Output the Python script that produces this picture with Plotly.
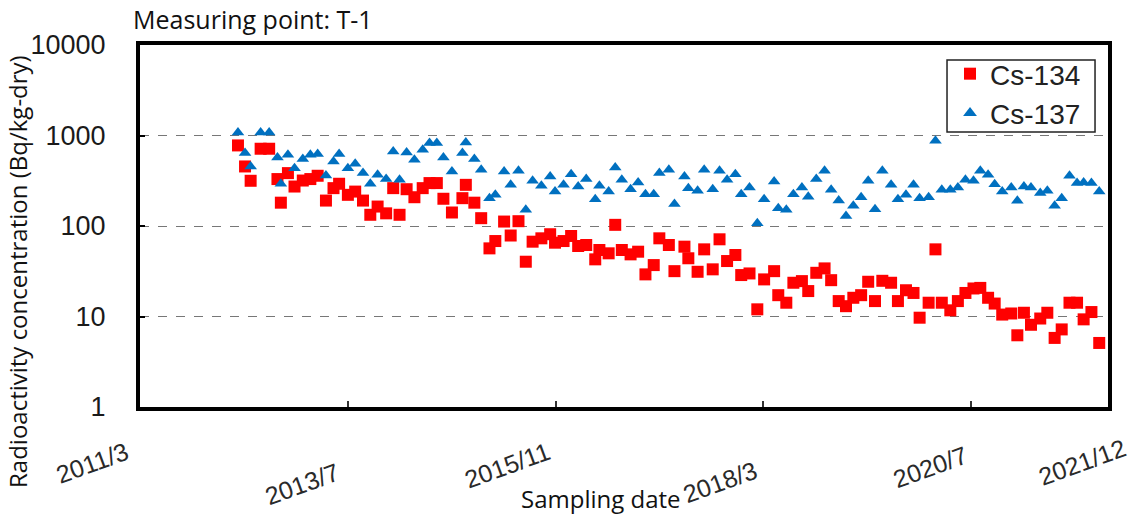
import plotly.graph_objects as go

sampling_dates = [
    "2012-04-06", "2012-05-05", "2012-05-28", "2012-07-08", "2012-08-12", "2012-09-15", "2012-09-29", "2012-10-28", "2012-11-24", "2012-12-28",
    "2013-01-28", "2013-02-27", "2013-04-02", "2013-05-03", "2013-05-26", "2013-07-01", "2013-07-31", "2013-09-01", "2013-10-01", "2013-10-31",
    "2013-12-05", "2014-01-03", "2014-01-29", "2014-02-27", "2014-03-31", "2014-05-04", "2014-06-01", "2014-07-01", "2014-07-28", "2014-09-01",
    "2014-10-14", "2014-10-28", "2014-12-02", "2014-12-30", "2015-02-02", "2015-02-26", "2015-04-03", "2015-04-30", "2015-06-01", "2015-07-01",
    "2015-07-29", "2015-09-03", "2015-10-09", "2015-10-29", "2015-12-03", "2016-01-03", "2016-02-01", "2016-03-05", "2016-04-11", "2016-04-28",
    "2016-06-05", "2016-07-02", "2016-07-29", "2016-09-03", "2016-10-04", "2016-11-03", "2016-12-07", "2016-12-30", "2017-02-07", "2017-03-02",
    "2017-04-12", "2017-04-28", "2017-06-05", "2017-07-02", "2017-08-06", "2017-09-03", "2017-10-04", "2017-11-07", "2017-12-01", "2018-01-04",
    "2018-02-05", "2018-03-05", "2018-04-15", "2018-05-02", "2018-06-04", "2018-07-03", "2018-08-07", "2018-09-02", "2018-10-05", "2018-11-08",
    "2018-12-05", "2019-01-05", "2019-02-04", "2019-03-06", "2019-04-07", "2019-05-06", "2019-06-03", "2019-07-03", "2019-08-08", "2019-09-05",
    "2019-10-08", "2019-11-08", "2019-12-03", "2020-01-09", "2020-02-06", "2020-03-03", "2020-04-07", "2020-05-08", "2020-06-08", "2020-07-11",
    "2020-08-08", "2020-09-09", "2020-10-06", "2020-11-06", "2020-12-13", "2021-01-07", "2021-02-03", "2021-03-04", "2021-04-11", "2021-05-10",
    "2021-06-09", "2021-07-08", "2021-08-09", "2021-09-09", "2021-10-06", "2021-11-07", "2021-12-09",
]

cs137 = [
    1082, 640, 455, 1082, 1082, 572, 293, 613, 436, 549,
    613, 624, 361, 517, 624, 436, 488, 384, 293, 368,
    330, 667, 324, 650, 539, 697, 826, 826, 572, 400,
    640, 839, 549, 418, 203, 221, 400, 285, 407, 151,
    316, 278, 352, 240, 285, 374, 273, 330, 198, 278,
    240, 443, 324, 255, 302, 225, 225, 384, 418, 175,
    352, 262, 245, 418, 255, 407, 324, 374, 225, 266,
    107, 198, 310, 157, 151, 225, 266, 210, 330, 407,
    251, 191, 129, 167, 208, 316, 153, 407, 285, 198,
    221, 285, 203, 208, 876, 251, 251, 266, 324, 316,
    407, 368, 290, 240, 266, 190, 273, 266, 231, 245,
    167, 203, 359, 298, 302, 298, 240,
]

cs134 = [
    777, 455, 316, 714, 714, 330, 181, 384, 273, 318,
    330, 359, 191, 262, 293, 221, 240, 191, 133, 164,
    138, 262, 133, 255, 208, 262, 298, 298, 200, 141,
    203, 285, 181, 122, 56.6, 68.2, 112, 78.5, 113, 40.3,
    67.1, 73.1, 81.1, 65.4, 68.2, 77.6, 60.1, 61.7, 42.8, 54.3,
    49.9, 103, 54.3, 48.6, 52.0, 29.2, 37.0, 73.1, 61.7, 31.7,
    59.1, 44.0, 31.2, 55.2, 33.2, 71.3, 41.0, 47.8, 28.7, 29.9,
    12.0, 25.7, 31.7, 17.2, 14.2, 23.6, 24.6, 19.1, 30.4, 34.0,
    25.2, 14.8, 13.0, 16.1, 17.2, 24.2, 14.8, 24.8, 23.6, 14.8,
    19.5, 18.2, 9.7, 14.2, 55.2, 14.2, 11.7, 14.8, 18.2, 20.4,
    20.7, 16.1, 13.9, 10.5, 10.8, 6.2, 11.0, 8.1, 9.5, 11.0,
    5.8, 7.2, 14.2, 14.2, 9.3, 11.2, 5.1,
]

x_tick_dates = ["2011-03-01", "2013-07-01", "2015-11-01", "2018-03-01", "2020-07-01", "2021-12-01"]
x_tick_labels = ["2011/3", "2013/7", "2015/11", "2018/3", "2020/7", "2021/12"]
y_tick_vals = [1, 10, 100, 1000, 10000]
y_tick_labels = ["1", "10", "100", "1000", "10000"]

# label placement (pixel shifts relative to each tick date, paper y)
label_xshift = [-48, -46, -48, -43, -41, -15]
label_y = [-0.155, -0.214, -0.160, -0.208, -0.166, -0.152]

fig = go.Figure()
fig.add_trace(go.Scatter(
    x=sampling_dates, y=cs134, mode="markers", name="Cs-134",
    marker=dict(symbol="square", size=12, color="#FF0000"),
))
fig.add_trace(go.Scatter(
    x=sampling_dates, y=cs137, mode="markers", name="Cs-137",
    marker=dict(symbol="triangle-up", size=11, color="#0070C0"),
))

annotations = []
for d, t, xs, yy in zip(x_tick_dates, x_tick_labels, label_xshift, label_y):
    annotations.append(dict(
        x=d, xref="x", y=yy, yref="paper", text=t, showarrow=False,
        xshift=xs, textangle=-20, xanchor="center", yanchor="middle",
        font=dict(family="Liberation Sans, Arial", size=25, color="#2a2a2a"),
    ))
annotations.append(dict(
    x=0.476, xref="paper", y=-0.254, yref="paper", text="Sampling date",
    showarrow=False, xanchor="center", yanchor="middle",
    font=dict(family="Open Sans", size=24, color="#111111"),
))
annotations.append(dict(
    x=-0.126, xref="paper", y=0.373, yref="paper",
    text="Radioactivity concentration (Bq/kg-dry)",
    showarrow=False, textangle=-90, xanchor="center", yanchor="middle",
    font=dict(family="Open Sans", size=24, color="#111111"),
))

W, H = 1145, 515
fig.update_layout(
    width=W, height=H,
    margin=dict(l=140, r=37, t=45, b=108),
    paper_bgcolor="white", plot_bgcolor="white",
    title=dict(
        text="Measuring point: T-1", x=133 / W, xanchor="left",
        xref="container", y=1 - 20 / H, yref="container", yanchor="middle",
        font=dict(family="Open Sans", size=25, color="#111111"),
    ),
    showlegend=True,
    legend=dict(
        x=0.8368, xanchor="left", y=0.989, yanchor="top",
        borderwidth=0, bgcolor="rgba(0,0,0,0)",
        font=dict(family="Liberation Sans, Arial", size=28, color="#222222"),
        itemsizing="constant",
    ),
    shapes=[dict(
        type="rect", xref="paper", yref="paper",
        x0=0.8337, x1=0.9866, y0=0.7597, y1=0.9586,
        line=dict(color="#222222", width=1.5), fillcolor="white", layer="above",
    )],
    annotations=annotations,
)

fig.update_xaxes(
    type="date", range=["2011-03-01", "2022-01-14"],
    tickvals=x_tick_dates[1:5], showticklabels=False,
    ticks="inside", ticklen=6, tickcolor="#333333", tickwidth=1.5,
    showgrid=False, zeroline=False,
    showline=True, linecolor="black", linewidth=4, mirror=True,
)
fig.update_yaxes(
    type="log", range=[0, 4],
    tickvals=y_tick_vals, ticktext=y_tick_labels,
    ticks="inside", ticklen=5, tickcolor="black", tickwidth=1.5,
    ticklabelstandoff=25,
    tickfont=dict(family="Liberation Sans, Arial", size=27, color="#1a1a1a"),
    showgrid=True, gridcolor="#777777", gridwidth=1, griddash="dash",
    zeroline=False,
    showline=True, linecolor="black", linewidth=4, mirror=True,
)

fig.write_html(
    "out.html",
    config={"displayModeBar": False},
    post_script="document.body.style.margin='0';document.body.style.overflow='hidden';",
)
